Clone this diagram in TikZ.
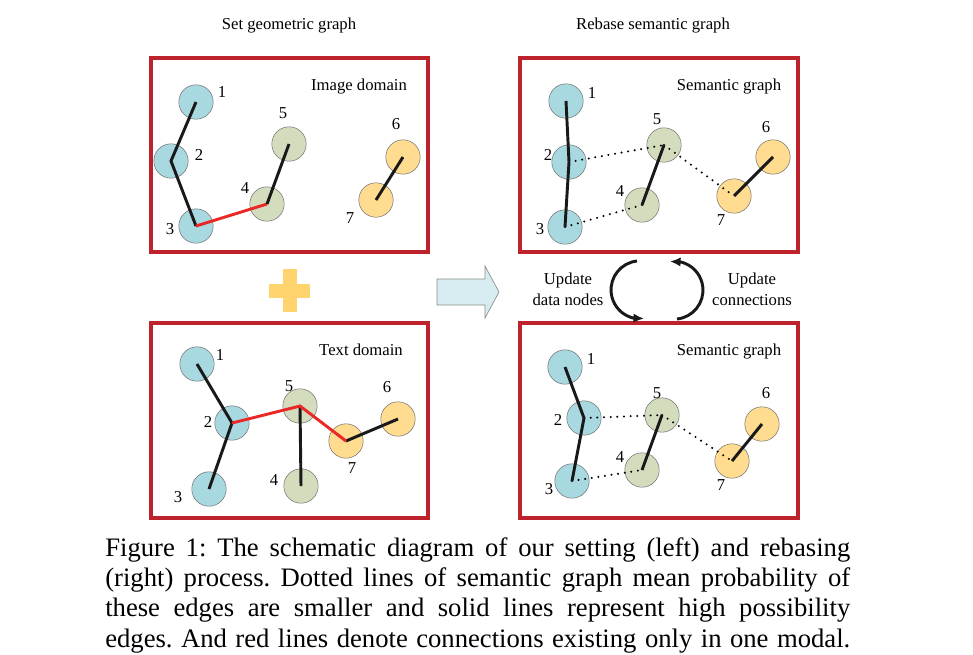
\documentclass[tikz,border=0pt]{standalone}
\usepackage{fontspec}
\setmainfont{Liberation Serif}
\usetikzlibrary{arrows.meta,bending}
\definecolor{boxred}{RGB}{190,35,45}
\definecolor{nblue}{RGB}{168,216,224}
\definecolor{ngreen}{RGB}{211,221,190}
\definecolor{nyellow}{RGB}{255,220,143}
\definecolor{plusc}{RGB}{255,212,110}
\definecolor{arrowc}{RGB}{214,236,240}
\definecolor{redline}{RGB}{235,40,40}
\newcommand{\capline}[1]{\makebox[558.75pt][s]{#1}}
\frenchspacing
\tikzset{
  gnode/.style={circle, draw=black!55, line width=0.4pt, minimum size=25.8pt, inner sep=0pt},
  bnode/.style={gnode, fill=nblue},
  gnd/.style={gnode, fill=ngreen},
  ynode/.style={gnode, fill=nyellow},
  lab/.style={font=\fontsize{12.5}{15.75}\selectfont, inner sep=0pt},
  capt/.style={font=\fontsize{20}{24}\selectfont\frenchspacing, inner sep=0pt, anchor=base west},
  frame/.style={draw=boxred, line width=3pt},
  soledge/.style={line width=2.2pt, black!90},
  redge/.style={line width=2.2pt, redline},
  dotedge/.style={line width=1.7pt, black, dash pattern=on 0pt off 5pt, line cap=round},
  cyc/.style={line width=2.2pt, black!90, -{Latex[length=8pt,width=7pt]}},
}
\begin{document}
\begin{tikzpicture}[x=0.75pt,y=-0.75pt]
\useasboundingbox (0,0) rectangle (973,654);

% titles
\node[lab, anchor=base] (t1) at (289,29) {Set geometric graph};
\node[lab, anchor=base] (t2) at (653,29) {Rebase semantic graph};

% frames
\draw[frame] (151,58) rectangle (428,252);
\draw[frame] (520,58) rectangle (798,252);
\draw[frame] (151,323) rectangle (428,518);
\draw[frame] (520,323) rectangle (798,518);

\node[lab, anchor=base] (h1) at (359,90) {Image domain};
\node[lab, anchor=base] (h2) at (729,90) {Semantic graph};
\node[lab, anchor=base] (h3) at (361,355) {Text domain};
\node[lab, anchor=base] (h4) at (729,355) {Semantic graph};

% ---------- top-left: image domain ----------
\node[bnode] (a1) at (196,102) {};
\node[bnode] (a2) at (171,161) {};
\node[bnode] (a3) at (196,226) {};
\node[gnd] (a4) at (267,204) {};
\node[gnd] (a5) at (289,144) {};
\node[ynode] (a6) at (403,157) {};
\node[ynode] (a7) at (376,200) {};
\node[lab] (la1) at (222,92) {1};
\node[lab] (la2) at (199,155) {2};
\node[lab] (la3) at (170,229) {3};
\node[lab] (la4) at (245,188) {4};
\node[lab] (la5) at (283,113) {5};
\node[lab] (la6) at (396,124) {6};
\node[lab] (la7) at (350,218) {7};
\draw[soledge] (a1.center) -- (a2.center) -- (a3.center);
\draw[redge] (a3.center) -- (a4.center);
\draw[soledge] (a4.center) -- (a5.center);
\draw[soledge] (a6.center) -- (a7.center);

% ---------- top-right: semantic graph ----------
\node[bnode] (b1) at (566,101) {};
\node[bnode] (b2) at (569,162) {};
\node[bnode] (b3) at (565,227) {};
\node[gnd] (b4) at (642,205) {};
\node[gnd] (b5) at (664,145) {};
\node[ynode] (b6) at (773,157) {};
\node[ynode] (b7) at (734,196) {};
\node[lab] (lb1) at (592,93) {1};
\node[lab] (lb2) at (548,155) {2};
\node[lab] (lb3) at (540,229) {3};
\node[lab] (lb4) at (620,191) {4};
\node[lab] (lb5) at (657,119) {5};
\node[lab] (lb6) at (766,127) {6};
\node[lab] (lb7) at (721,220) {7};
\draw[dotedge] (b2.center) -- (b5.center);
\draw[dotedge] (b3.center) -- (b4.center);
\draw[dotedge] (b5.center) -- (b7.center);
\draw[soledge] (b1.center) -- (b2.center) -- (b3.center);
\draw[soledge] (b4.center) -- (b5.center);
\draw[soledge] (b6.center) -- (b7.center);

% ---------- bottom-left: text domain ----------
\node[bnode] (c1) at (197,364) {};
\node[bnode] (c2) at (232,423) {};
\node[bnode] (c3) at (209,489) {};
\node[gnd] (c4) at (301,486) {};
\node[gnd] (c5) at (300,406) {};
\node[ynode] (c6) at (398,419) {};
\node[ynode] (c7) at (346,441) {};
\node[lab] (lc1) at (220,355) {1};
\node[lab] (lc2) at (208,422) {2};
\node[lab] (lc3) at (178,497) {3};
\node[lab] (lc4) at (274,480) {4};
\node[lab] (lc5) at (289,386) {5};
\node[lab] (lc6) at (387,387) {6};
\node[lab] (lc7) at (352,468) {7};
\draw[soledge] (c1.center) -- (c2.center) -- (c3.center);
\draw[soledge] (c5.center) -- (c4.center);
\draw[soledge] (c7.center) -- (c6.center);
\draw[redge] (c2.center) -- (c5.center) -- (c7.center);

% ---------- bottom-right: semantic graph ----------
\node[bnode] (d1) at (565,367) {};
\node[bnode] (d2) at (584,418) {};
\node[bnode] (d3) at (572,481) {};
\node[gnd] (d4) at (642,470) {};
\node[gnd] (d5) at (662,415) {};
\node[ynode] (d6) at (762,424) {};
\node[ynode] (d7) at (732,461) {};
\node[lab] (ld1) at (591,359) {1};
\node[lab] (ld2) at (558,420) {2};
\node[lab] (ld3) at (549,489) {3};
\node[lab] (ld4) at (620,457) {4};
\node[lab] (ld5) at (657,393) {5};
\node[lab] (ld6) at (766,393) {6};
\node[lab] (ld7) at (721,485) {7};
\draw[dotedge] (d2.center) -- (d5.center);
\draw[dotedge] (d3.center) -- (d4.center);
\draw[dotedge] (d5.center) -- (d7.center);
\draw[soledge] (d1.center) -- (d2.center) -- (d3.center);
\draw[soledge] (d4.center) -- (d5.center);
\draw[soledge] (d6.center) -- (d7.center);

% ---------- middle ----------
\fill[plusc] (283,269) rectangle (297,312);
\fill[plusc] (269,284) rectangle (310,298);

\draw[draw=black!45, fill=arrowc, line width=0.5pt]
  (437,279) -- (485,279) -- (485,266) -- (499,292) -- (485,318) -- (485,305) -- (437,305) -- cycle;

\node[lab, align=center] (u1) at (568,289) {Update\\data nodes};
\node[lab, align=center] (u2) at (752,289) {Update\\connections};

\coordinate (lstart) at (637,261);
\coordinate (rstart) at (677,319);
\draw[cyc] (lstart) arc[start angle=264, end angle=82, radius=29];
\draw[cyc] (rstart) arc[start angle=84, end angle=-98, radius=29];

% ---------- caption ----------
\node[capt] (cap1) at (105,556) {\capline{Figure 1: The schematic diagram of our setting (left) and rebasing}};
\node[capt] (cap2) at (105,586) {\capline{(right) process. Dotted lines of semantic graph mean probability of}};
\node[capt] (cap3) at (105,616) {\capline{these edges are smaller and solid lines represent high possibility}};
\node[capt] (cap4) at (105,647) {\capline{edges. And red lines denote connections existing only in one modal.}};
\end{tikzpicture}
\end{document}
